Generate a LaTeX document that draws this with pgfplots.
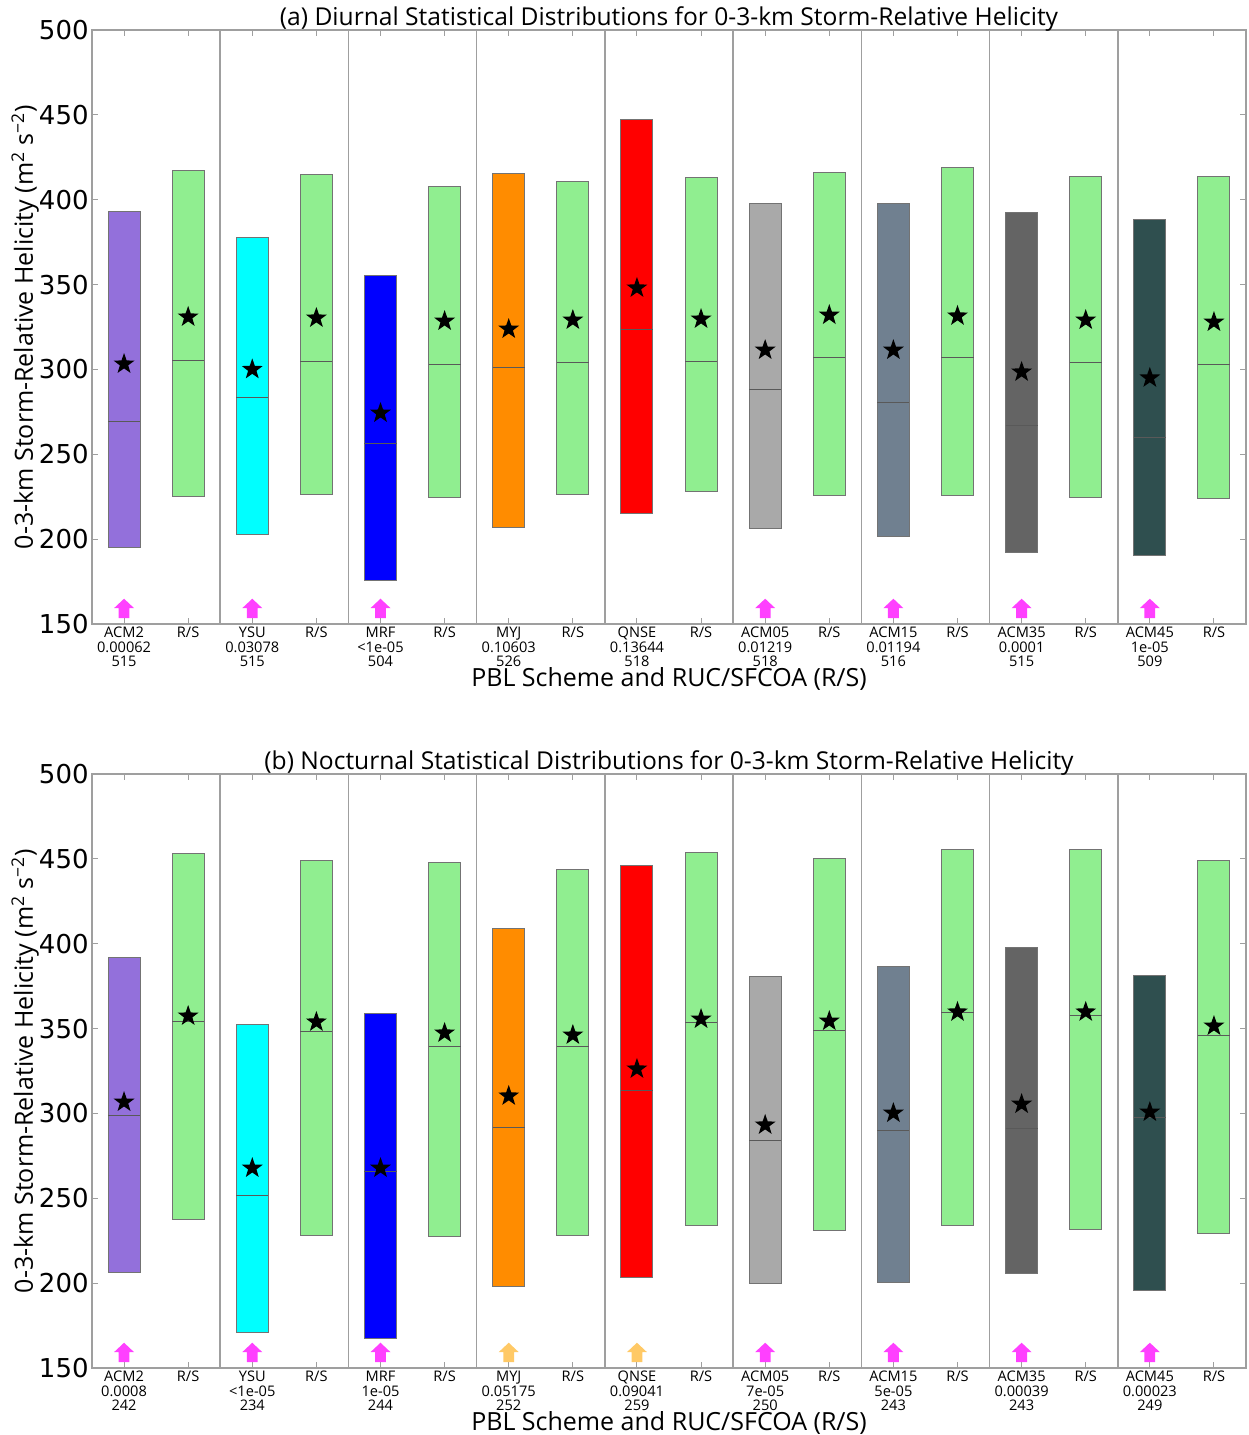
\documentclass[border=0pt]{standalone}
\usepackage{fontspec}
\setmainfont{Open Sans}
\newfontfamily\dejavu{DejaVu Sans}
\usepackage{pgfplots}
\usepackage{pgfplotstable}
\pgfplotsset{compat=1.18}

\definecolor{c0}{HTML}{9370DB}
\definecolor{c2}{HTML}{00FFFF}
\definecolor{c4}{HTML}{0000FF}
\definecolor{c6}{HTML}{FF8C00}
\definecolor{c8}{HTML}{FF0000}
\definecolor{c10}{HTML}{A9A9A9}
\definecolor{c12}{HTML}{708090}
\definecolor{c14}{HTML}{646464}
\definecolor{c16}{HTML}{2F4F4F}
\definecolor{rsgreen}{HTML}{90EE90}
\definecolor{arrmag}{HTML}{FF40FF}
\definecolor{arrorg}{HTML}{FFC966}

\pgfdeclareplotmark{fstar}{%
  \pgfpathmoveto{\pgfpointpolar{90}{\pgfplotmarksize}}%
  \pgfpathlineto{\pgfpointpolar{126}{0.4\pgfplotmarksize}}%
  \pgfpathlineto{\pgfpointpolar{162}{\pgfplotmarksize}}%
  \pgfpathlineto{\pgfpointpolar{198}{0.4\pgfplotmarksize}}%
  \pgfpathlineto{\pgfpointpolar{234}{\pgfplotmarksize}}%
  \pgfpathlineto{\pgfpointpolar{270}{0.4\pgfplotmarksize}}%
  \pgfpathlineto{\pgfpointpolar{306}{\pgfplotmarksize}}%
  \pgfpathlineto{\pgfpointpolar{342}{0.4\pgfplotmarksize}}%
  \pgfpathlineto{\pgfpointpolar{18}{\pgfplotmarksize}}%
  \pgfpathlineto{\pgfpointpolar{54}{0.4\pgfplotmarksize}}%
  \pgfpathclose\pgfusepathqfill}

\pgfdeclareplotmark{uarrow}{%
  \pgfpathmoveto{\pgfqpoint{0pt}{5pt}}%
  \pgfpathlineto{\pgfqpoint{5pt}{0.3pt}}%
  \pgfpathlineto{\pgfqpoint{2.7pt}{0.3pt}}%
  \pgfpathlineto{\pgfqpoint{2.7pt}{-4.7pt}}%
  \pgfpathlineto{\pgfqpoint{-2.7pt}{-4.7pt}}%
  \pgfpathlineto{\pgfqpoint{-2.7pt}{0.3pt}}%
  \pgfpathlineto{\pgfqpoint{-5pt}{0.3pt}}%
  \pgfpathclose\pgfusepathqfill}

% mean values (stars)
\pgfplotstableread{
x mean
0 303.2
1 330.9
2 300.0
3 330.3
4 274.3
5 328.5
6 323.8
7 329.1
8 348.0
9 329.7
10 311.4
11 332.0
12 311.4
13 331.5
14 298.5
15 329.1
16 295.0
17 327.9
}\meanA

\pgfplotstableread{
x mean
0 306.7
1 357.4
2 267.8
3 353.9
4 267.8
5 347.4
6 310.3
7 346.2
8 326.2
9 355.6
10 293.2
11 354.4
12 300.2
13 359.8
14 305.5
15 359.8
16 300.8
17 351.5
}\meanB

% box: position, low, high, median, fill colour
\newcommand\bx[5]{%
  \pgfmathsetmacro\xl{#1-0.25}\pgfmathsetmacro\xr{#1+0.25}%
  \addplot[fill=#5, draw=black!55, line width=0.5pt] coordinates {(\xl,#2) (\xr,#2) (\xr,#3) (\xl,#3)} -- cycle;
  \addplot[draw=black!65, line width=0.5pt] coordinates {(\xl,#4) (\xr,#4)};}

\pgfplotsset{
  panel/.style={
    scale only axis, width=577pt, height=297pt,
    xmin=-0.5, xmax=17.5, ymin=150, ymax=500,
    xtick={0,...,17}, ytick={150,200,...,500},
    tick align=inside, major tick length=3pt,
    tick style={gray!75, line width=0.5pt},
    axis line style={gray!75, line width=0.75pt},
    yticklabel style={font=\dejavu\fontsize{13}{13}\selectfont, inner sep=1.5pt},
    /pgf/number format/assume math mode=true,
    xticklabel style={font=\fontsize{7.3}{7.25}\selectfont, align=center, anchor=north, inner sep=1.5pt},
    extra x ticks={1.5,3.5,5.5,7.5,9.5,11.5,13.5,15.5},
    extra x tick labels={},
    extra x tick style={grid=major, major grid style={gray!75, line width=0.75pt}, major tick length=0pt},
    ylabel={0-3-km Storm-Relative Helicity (m\textsuperscript{2} s\textsuperscript{−2})},
    ylabel style={at={(axis description cs:-0.058,0.5)}, anchor=center, rotate=0, font=\fontsize{12.5}{14}\selectfont},
    xlabel={PBL Scheme and RUC/SFCOA (R/S)},
    xlabel style={at={(axis description cs:0.5,0)}, anchor=center, yshift=-27.5pt, font=\fontsize{12.5}{14}\selectfont},
    title style={at={(axis description cs:0.5,1)}, anchor=center, yshift=-0.5pt, font=\fontsize{12.3}{14}\selectfont},
    clip=false,
  },
}

\begin{document}
\begin{tikzpicture}
\begin{axis}[panel, at={(0,0)},
  title={(a) Diurnal Statistical Distributions for 0-3-km Storm-Relative Helicity},
  xticklabels={{ACM2\\0.00062\\515},{R/S},{YSU\\0.03078\\515},{R/S},{MRF\\<1e-05\\504},{R/S},{MYJ\\0.10603\\526},{R/S},{QNSE\\0.13644\\518},{R/S},{ACM05\\0.01219\\518},{R/S},{ACM15\\0.01194\\516},{R/S},{ACM35\\0.0001\\515},{R/S},{ACM45\\1e-05\\509},{R/S}},
]
\bx{0}{194.8}{392.8}{269.6}{c0}
\bx{1}{225.4}{417.5}{305.0}{rsgreen}
\bx{2}{203.0}{378.0}{283.7}{c2}
\bx{3}{226.6}{414.6}{304.4}{rsgreen}
\bx{4}{175.9}{355.6}{256.6}{c4}
\bx{5}{224.8}{408.0}{303.2}{rsgreen}
\bx{6}{207.1}{415.7}{301.4}{c6}
\bx{7}{226.6}{411.0}{303.8}{rsgreen}
\bx{8}{215.4}{447.0}{323.8}{c8}
\bx{9}{227.8}{412.8}{304.4}{rsgreen}
\bx{10}{206.5}{397.5}{287.9}{c10}
\bx{11}{226.0}{416.3}{307.3}{rsgreen}
\bx{12}{201.8}{397.5}{280.8}{c12}
\bx{13}{226.0}{418.7}{307.3}{rsgreen}
\bx{14}{192.4}{392.2}{267.2}{c14}
\bx{15}{224.8}{413.4}{303.8}{rsgreen}
\bx{16}{190.6}{388.6}{259.6}{c16}
\bx{17}{224.2}{413.4}{303.2}{rsgreen}
\addplot[only marks, mark=fstar, mark size=5.5pt, black] table[x=x, y=mean] {\meanA};
\addplot[only marks, mark=uarrow, color=arrmag] coordinates {(0,159) (2,159) (4,159) (10,159) (12,159) (14,159) (16,159)};
\end{axis}

\begin{axis}[panel, at={(0,-372pt)},
  title={(b) Nocturnal Statistical Distributions for 0-3-km Storm-Relative Helicity},
  xticklabels={{ACM2\\0.0008\\242},{R/S},{YSU\\<1e-05\\234},{R/S},{MRF\\1e-05\\244},{R/S},{MYJ\\0.05175\\252},{R/S},{QNSE\\0.09041\\259},{R/S},{ACM05\\7e-05\\250},{R/S},{ACM15\\5e-05\\243},{R/S},{ACM35\\0.00039\\243},{R/S},{ACM45\\0.00023\\249},{R/S}},
]
\bx{0}{206.0}{391.6}{299.0}{c0}
\bx{1}{237.8}{453.4}{354.4}{rsgreen}
\bx{2}{171.2}{352.7}{251.9}{c2}
\bx{3}{228.3}{449.3}{348.0}{rsgreen}
\bx{4}{167.6}{358.6}{265.6}{c4}
\bx{5}{227.2}{448.1}{339.7}{rsgreen}
\bx{6}{198.3}{408.7}{292.0}{c6}
\bx{7}{227.8}{444.0}{339.7}{rsgreen}
\bx{8}{203.6}{445.8}{313.8}{c8}
\bx{9}{234.2}{454.0}{353.3}{rsgreen}
\bx{10}{200.0}{380.4}{284.3}{c10}
\bx{11}{231.3}{450.5}{348.6}{rsgreen}
\bx{12}{200.6}{386.3}{290.2}{c12}
\bx{13}{234.2}{455.8}{359.2}{rsgreen}
\bx{14}{205.4}{398.0}{291.4}{c14}
\bx{15}{231.9}{455.8}{358.0}{rsgreen}
\bx{16}{195.9}{381.0}{297.9}{c16}
\bx{17}{229.0}{449.3}{346.2}{rsgreen}
\addplot[only marks, mark=fstar, mark size=5.5pt, black] table[x=x, y=mean] {\meanB};
\addplot[only marks, mark=uarrow, color=arrmag] coordinates {(0,159) (2,159) (4,159) (10,159) (12,159) (14,159) (16,159)};
\addplot[only marks, mark=uarrow, color=arrorg] coordinates {(6,159) (8,159)};
\end{axis}
\pgfresetboundingbox
\path (-46pt,-405.5pt) rectangle (578pt,312pt);
\end{tikzpicture}
\end{document}
